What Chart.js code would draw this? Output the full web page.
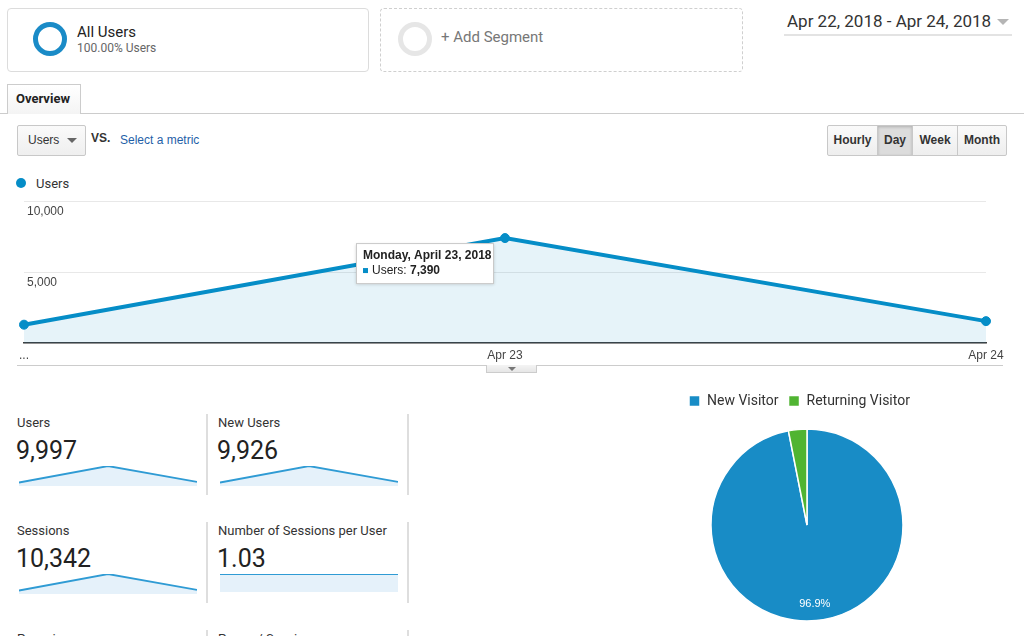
<!DOCTYPE html>
<html>
<head>
<meta charset="utf-8">
<script src="https://cdn.jsdelivr.net/npm/chart.js@4.4.0/dist/chart.umd.min.js"></script>
<style>
    body { margin: 0; width: 1024px; height: 636px; overflow: hidden; background: #fff; font-family: Roboto, "Noto Sans", sans-serif; color: #333; position: relative; }
    .abs { position: absolute; }
    .segmento { position: absolute; top: 8px; height: 64px; box-sizing: border-box; border-radius: 4px; }
    .anel { position: absolute; width: 34px; height: 34px; box-sizing: border-box; border-radius: 50%; border: 5px solid #1a8bc7; }
    .botao { position: absolute; top: 0; height: 31px; box-sizing: border-box; border: 1px solid #c8c8c8; background: linear-gradient(#fafafa, #eeeeee); font: bold 12px "Liberation Sans", Arial, sans-serif; color: #333; line-height: 29px; text-align: center; }
    .rotulo { position: absolute; font-size: 13px; line-height: 16px; color: #333; white-space: nowrap; }
    .valor { position: absolute; font-size: 25px; line-height: 30px; color: #222; white-space: nowrap; }
    .separador { position: absolute; width: 2px; background: #dedede; }
    .mini { position: absolute; }
</style>
</head>
<body>

<!-- segmentos -->
<div class="segmento" style="left:7px; width:362px; border:1px solid #dcdcdc;"></div>
<div class="anel" style="left:33px; top:22px;"></div>
<div class="abs" style="left:77px; top:23px; font-size:15px; color:#222;">All Users</div>
<div class="abs" style="left:77px; top:41px; font-size:12px; color:#666;">100.00% Users</div>

<div class="segmento" style="left:380px; width:363px; border:1px dashed #cfcfcf;"></div>
<div class="anel" style="left:398px; top:22px; border-color:#e6e6e6;"></div>
<div class="abs" style="left:441px; top:28px; font-size:15px; color:#777;">+ Add Segment</div>

<!-- periodo -->
<div class="abs" style="left:787px; top:11px; font-size:17px; color:#333;">Apr 22, 2018 - Apr 24, 2018</div>
<div class="abs" style="left:997px; top:19px; width:0; height:0; border-left:6px solid transparent; border-right:6px solid transparent; border-top:6px solid #b5b5b5;"></div>
<div class="abs" style="left:784px; top:34px; width:228px; height:2px; background:#e3e3e3;"></div>

<!-- aba -->
<div class="abs" style="left:0; top:113px; width:1024px; height:1px; background:#cccccc;"></div>
<div class="abs" style="left:7px; top:84px; width:74px; height:30px; box-sizing:border-box; border:1px solid #cccccc; border-bottom:none; background:linear-gradient(#ffffff, #f4f4f4); font:bold 13px Roboto, sans-serif; color:#222; line-height:28px; padding-left:8px;">Overview</div>

<!-- seletor de metrica -->
<div class="abs" style="left:17px; top:125px; width:69px; height:31px; box-sizing:border-box; border:1px solid #c8c8c8; border-radius:2px; background:linear-gradient(#fafafa, #efefef);"></div>
<div class="abs" style="left:28px; top:133px; font:12px 'Liberation Sans', Arial, sans-serif; color:#333;">Users</div>
<div class="abs" style="left:67px; top:138px; width:0; height:0; border-left:5px solid transparent; border-right:5px solid transparent; border-top:5px solid #666;"></div>
<div class="abs" style="left:91px; top:131px; font:bold 12px 'Liberation Sans', Arial, sans-serif; color:#333;">VS.</div>
<div class="abs" style="left:120px; top:133px; font:12px 'Liberation Sans', Arial, sans-serif; color:#1f5fa8;">Select a metric</div>

<!-- botoes de periodo -->
<div class="abs" style="left:827px; top:125px; width:180px; height:31px;">
    <div class="botao" style="left:0; width:51px; border-radius:2px 0 0 2px;">Hourly</div>
    <div class="botao" style="left:50px; width:36px; background:#dcdcdc; box-shadow: inset 0 1px 3px rgba(0,0,0,0.2);">Day</div>
    <div class="botao" style="left:85px; width:46px;">Week</div>
    <div class="botao" style="left:130px; width:50px; border-radius:0 2px 2px 0;">Month</div>
</div>

<!-- legenda do grafico principal -->
<div class="abs" style="left:16px; top:178px; width:10px; height:10px; border-radius:50%; background:#058dc7;"></div>
<div class="abs" style="left:36px; top:176px; font-size:13px; color:#333;">Users</div>

<canvas id="graficoUsuarios" class="abs" width="1024" height="175" style="left:0; top:190px;"></canvas>

<div class="abs" style="left:17px; top:365px; width:986px; height:1px; background:#cccccc;"></div>
<div class="abs" style="left:486px; top:365px; width:51px; height:8px; box-sizing:border-box; border:1px solid #cccccc; border-top:none; background:linear-gradient(#f4f4f4, #e6e6e6);"></div>
<div class="abs" style="left:508px; top:367px; width:0; height:0; border-left:4px solid transparent; border-right:4px solid transparent; border-top:4px solid #777;"></div>

<!-- resumo -->
<div class="rotulo" style="left:17px; top:415px;">Users</div>
<div class="valor" style="left:16px; top:436px;">9,997</div>
<canvas id="miniUsuarios" class="mini" width="178" height="23" style="left:19px; top:463px;"></canvas>
<div class="separador" style="left:206px; top:414px; height:81px;"></div>

<div class="rotulo" style="left:218px; top:415px;">New Users</div>
<div class="valor" style="left:217px; top:436px;">9,926</div>
<canvas id="miniNovos" class="mini" width="178" height="23" style="left:220px; top:463px;"></canvas>
<div class="separador" style="left:407px; top:414px; height:81px;"></div>

<div class="rotulo" style="left:17px; top:523px;">Sessions</div>
<div class="valor" style="left:16px; top:544px;">10,342</div>
<canvas id="miniSessoes" class="mini" width="178" height="23" style="left:19px; top:571px;"></canvas>
<div class="separador" style="left:206px; top:522px; height:81px;"></div>

<div class="rotulo" style="left:218px; top:523px;">Number of Sessions per User</div>
<div class="valor" style="left:217px; top:544px;">1.03</div>
<canvas id="miniSessoesPorUsuario" class="mini" width="178" height="21" style="left:220px; top:571px;"></canvas>
<div class="separador" style="left:407px; top:522px; height:81px;"></div>

<div class="rotulo" style="left:17px; top:631px;">Pageviews</div>
<div class="separador" style="left:206px; top:630px; height:20px;"></div>
<div class="rotulo" style="left:218px; top:631px;">Pages / Session</div>
<div class="separador" style="left:407px; top:630px; height:20px;"></div>

<canvas id="graficoVisitantes" class="abs" width="256" height="252" style="left:679px; top:384px;"></canvas>

<script>
// dados do grafico principal (usuarios por dia)
const rotulosEixo = ['...', 'Apr 23', 'Apr 24'];
const diasCompletos = ['Sunday, April 22, 2018', 'Monday, April 23, 2018', 'Tuesday, April 24, 2018'];
const usuariosPorDia = [1290, 7390, 1540];
const ticksUsuarios = [0, 5000, 10000];

// dados das mini linhas
const novosPorDia = [1280, 7330, 1520];
const sessoesPorDia = [1330, 7640, 1590];
const sessoesPorUsuarioDia = [1.03, 1.03, 1.03];

// dados da pizza
const tiposVisitante = ['New Visitor', 'Returning Visitor'];
const percentualVisitante = [96.9, 3.1];

const azul = '#058dc7';
const azulPizza = '#188cc6';
const verde = '#50b432';
const fonteArial = '"Liberation Sans", Arial, sans-serif';

// indice do ponto com a caixa de detalhes aberta
const pontoDestacado = 1;

// desenha a caixa de detalhes do ponto (igual ao tooltip do GA)
const pluginCaixaDetalhe = {
    id: 'caixaDetalhe',
    afterDatasetsDraw(chart) {
        const ponto = chart.getDatasetMeta(0).data[pontoDestacado];
        if (!ponto) return;
        const ctx = chart.ctx;
        const x = ponto.x - 149;
        const y = ponto.y + 5;
        const largura = 138;
        const altura = 41;

        ctx.save();
        ctx.shadowColor = 'rgba(0,0,0,0.18)';
        ctx.shadowBlur = 3;
        ctx.shadowOffsetY = 1;
        ctx.fillStyle = '#fff';
        ctx.fillRect(x, y, largura, altura);
        ctx.shadowColor = 'transparent';
        ctx.strokeStyle = '#c9c9c9';
        ctx.lineWidth = 1;
        ctx.strokeRect(x + 0.5, y + 0.5, largura - 1, altura - 1);

        ctx.textBaseline = 'middle';
        ctx.fillStyle = '#222';
        ctx.font = 'bold 12px ' + fonteArial;
        ctx.fillText(diasCompletos[pontoDestacado], x + 7, y + 13);

        ctx.fillStyle = azul;
        ctx.fillRect(x + 7, y + 25, 5, 5);
        ctx.fillStyle = '#222';
        ctx.font = '12px ' + fonteArial;
        const texto = 'Users: ';
        ctx.fillText(texto, x + 16, y + 28);
        const w = ctx.measureText(texto).width;
        ctx.font = 'bold 12px ' + fonteArial;
        ctx.fillText(usuariosPorDia[pontoDestacado].toLocaleString('en-US'), x + 16 + w, y + 28);
        ctx.restore();
    }
};

new Chart(document.getElementById('graficoUsuarios'), {
    type: 'line',
    data: {
        labels: rotulosEixo,
        datasets: [{
            label: 'Users',
            data: usuariosPorDia,
            borderColor: azul,
            backgroundColor: 'rgba(5,141,199,0.1)',
            borderWidth: 4,
            fill: 'origin',
            tension: 0,
            pointRadius: 4.5,
            pointBackgroundColor: azul,
            pointBorderColor: azul,
            pointBorderWidth: 1
        }]
    },
    options: {
        responsive: false,
        animation: false,
        events: [],
        layout: { padding: { left: 24, right: 38, top: 11, bottom: 0 } },
        plugins: { legend: { display: false }, tooltip: { enabled: false } },
        scales: {
            x: {
                offset: false,
                grid: { display: false, drawTicks: false },
                border: { display: true, color: '#3d3d3d', width: 1.5 },
                ticks: { color: '#444', font: { family: fonteArial, size: 12 }, padding: 5, maxRotation: 0, autoSkip: false },
                afterFit(escala) { escala.height = 22; }
            },
            y: {
                min: 0,
                max: 10000,
                afterBuildTicks(escala) { escala.ticks = ticksUsuarios.map(v => ({ value: v })); },
                grid: { color: '#e8e8e8', lineWidth: 1, drawTicks: false },
                border: { display: false },
                ticks: {
                    mirror: true,
                    padding: 3,
                    labelOffset: 11,
                    color: '#444',
                    font: { family: fonteArial, size: 12 },
                    callback: v => v === 0 ? '' : v.toLocaleString('en-US')
                },
                afterFit(escala) { escala.width = 0; }
            }
        }
    },
    plugins: [pluginCaixaDetalhe]
});

// mini graficos do resumo
function criarMiniLinha(idCanvas, valores) {
    new Chart(document.getElementById(idCanvas), {
        type: 'line',
        data: {
            labels: rotulosEixo,
            datasets: [{
                data: valores,
                borderColor: '#2f9bd4',
                backgroundColor: '#e5f1fa',
                borderWidth: 1.8,
                fill: 'origin',
                tension: 0,
                pointRadius: 0
            }]
        },
        options: {
            responsive: false,
            animation: false,
            events: [],
            layout: { padding: { top: 3, bottom: 0, left: 0, right: 0 } },
            plugins: { legend: { display: false }, tooltip: { enabled: false } },
            scales: {
                x: { display: false, offset: false },
                y: { display: false, min: 0, max: Math.max(...valores) }
            }
        }
    });
}

criarMiniLinha('miniUsuarios', usuariosPorDia);
criarMiniLinha('miniNovos', novosPorDia);
criarMiniLinha('miniSessoes', sessoesPorDia);
criarMiniLinha('miniSessoesPorUsuario', sessoesPorUsuarioDia);

// percentual escrito dentro da fatia grande
const pluginRotuloFatia = {
    id: 'rotuloFatia',
    afterDatasetsDraw(chart) {
        const ctx = chart.ctx;
        const arcos = chart.getDatasetMeta(0).data;
        ctx.save();
        ctx.fillStyle = '#fff';
        ctx.font = '11px ' + fonteArial;
        ctx.textAlign = 'center';
        ctx.textBaseline = 'middle';
        arcos.forEach((arco, i) => {
            if (percentualVisitante[i] < 10) return;
            const angulo = (arco.startAngle + arco.endAngle) / 2;
            const r = arco.outerRadius * 0.83;
            ctx.fillText(percentualVisitante[i].toFixed(1) + '%', arco.x + Math.cos(angulo) * r, arco.y + Math.sin(angulo) * r);
        });
        ctx.restore();
    }
};

new Chart(document.getElementById('graficoVisitantes'), {
    type: 'pie',
    data: {
        labels: tiposVisitante,
        datasets: [{
            data: percentualVisitante,
            backgroundColor: [azulPizza, verde],
            borderColor: '#fff',
            borderWidth: 1.5,
            radius: 96
        }]
    },
    options: {
        responsive: false,
        animation: false,
        events: [],
        layout: { padding: { bottom: 4 } },
        plugins: {
            tooltip: { enabled: false },
            legend: {
                position: 'top',
                align: 'start',
                labels: {
                    boxWidth: 11,
                    boxHeight: 11,
                    padding: 10,
                    color: '#333',
                    font: { family: 'Roboto', size: 14 }
                }
            }
        }
    },
    plugins: [pluginRotuloFatia]
});
</script>
</body>
</html>
